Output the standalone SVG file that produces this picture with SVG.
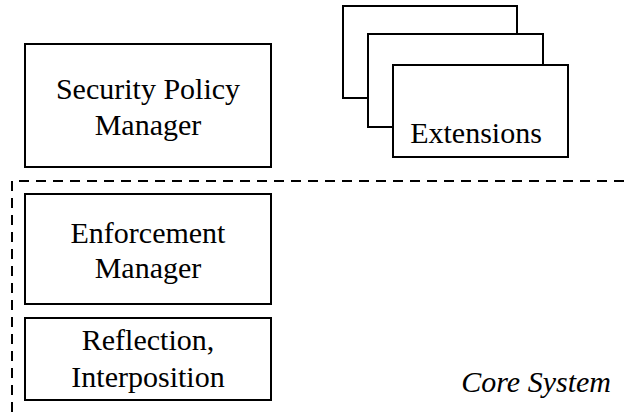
<svg xmlns="http://www.w3.org/2000/svg" width="627" height="412" viewBox="0 0 627 412">
<defs>
<rect id="dummy" width="0" height="0"/>
</defs>
<rect width="627" height="412" fill="#fff"/>
<g id="connectors">
<path d="M12,412 V181 H627" fill="none" stroke="#000" stroke-width="2" stroke-dasharray="10,7"/>
</g>
<g fill="#fff" stroke="#000" stroke-width="2">
<rect id="spm-box" x="25" y="44" width="246" height="123"/>
<rect x="343" y="6" width="174" height="92"/>
<rect x="368" y="34" width="175" height="93"/>
<rect id="ext-box" x="393" y="65" width="175" height="92"/>
<rect id="enf-box" x="25" y="194" width="246" height="110"/>
<rect id="refl-box" x="25" y="318" width="246" height="82"/>
</g>
<g style="font-family:'Liberation Serif',serif;font-size:30px" fill="#000" text-anchor="middle">
<g id="spm">
<text x="148" y="99">Security Policy</text>
<text x="148" y="135">Manager</text>
</g>
<g id="extensions">
<text x="476" y="143">Extensions</text>
</g>
<g id="enforcement">
<text x="148" y="243">Enforcement</text>
<text x="148" y="278">Manager</text>
</g>
<g id="reflection">
<text x="148" y="350">Reflection,</text>
<text x="148" y="387">Interposition</text>
</g>
<g id="core">
<text x="611" y="392" font-style="italic" text-anchor="end">Core System</text>
</g>
</g>
</svg>
